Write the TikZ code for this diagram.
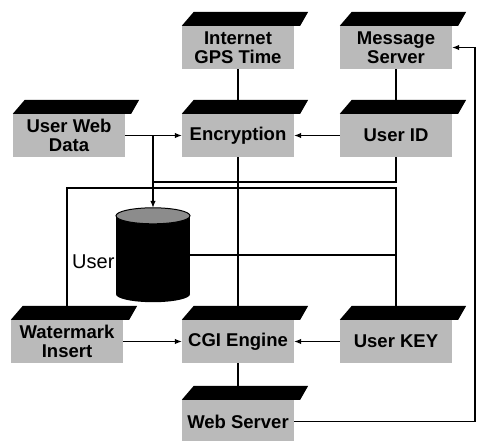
\documentclass[tikz,border=0pt]{standalone}
\usepackage{fontspec}
\setmainfont{Liberation Sans}
\usetikzlibrary{calc,arrows.meta}
\begin{document}
\begin{tikzpicture}[x=1pt,y=-1pt,
  blk/.style={fill=black!27, minimum width=112pt, minimum height=43pt, inner sep=0pt,
    align=center, font=\bfseries\fontsize{18.5}{18.5}\selectfont},
  ln/.style={line width=1.1pt},
  arr/.style={ln, -{Latex[length=7pt,width=5.5pt]}}]
\useasboundingbox[fill=white] (0,0) rectangle (477,440);
% boxes
\node[blk] (gps) at (238,47.5) {Internet\\GPS Time};
\node[blk] (msg) at (396,47.5) {Message\\Server};
\node[blk] (uwd) at (69,135.5) {User Web\\Data};
\node[blk] (enc) at (238,135.5) {Encryption};
\node[blk] (uid) at (396,135.5) {User ID};
\node[blk] (wm)  at (67,341.5) {Watermark\\Insert};
\node[blk] (cgi) at (238,341.5) {CGI Engine};
\node[blk] (key) at (396,341.5) {User KEY};
\node[blk] (web) at (238,421.5) {Web Server};
% database cylinder frame
\node[minimum width=74pt, minimum height=94pt, inner sep=0pt] (db) at (153,255) {};
\coordinate (br) at (db.north |- uwd.east);
\coordinate (ja) at (153,182);
\coordinate (jb) at (67,188);
\coordinate (rx) at (475,0);
% connectors
\draw[ln] (gps.south) -- (enc.north);
\draw[ln] (msg.south) -- (uid.north);
\draw[arr] (uid.west) -- (enc.east);
\draw[arr] (uwd.east) -- (enc.west);
\draw[arr] (br) -- (db.north);
\draw[ln] (uid.south) |- (ja);
\draw[ln] (key.north) |- (jb) -- (wm.north);
\draw[ln] (db.east) -- (db.east -| key.north);
\draw[ln] (enc.south) -- (cgi.north);
\draw[arr] (wm.east) -- (cgi.west);
\draw[arr] (key.west) -- (cgi.east);
\draw[ln] (cgi.south) -- (web.north);
\draw[arr] (web.east) -- (web.east -| rx) |- (msg.east);
% roofs
\foreach \n in {gps,msg,uwd,enc,uid,wm,cgi,key,web}
  \fill[black] (\n.north west) -- ++(12,-14) -- ($(\n.north east)+(14,-14)$) -- ($(\n.north east)+(6,0)$) -- cycle;
% label beside database
\node[anchor=base west, inner sep=0pt, font=\fontsize{20}{20}\selectfont] (usr) at (72,268) {User};
% cylinder
\fill[black] ($(db.north west)+(0,8)$) rectangle ($(db.south east)+(0,-8)$);
\fill[black] ($(db.south)+(0,-8)$) ellipse[x radius=37pt, y radius=8pt];
\filldraw[fill=black!45, draw=black, line width=1pt] ($(db.north)+(0,8)$) ellipse[x radius=37pt, y radius=8pt];
\end{tikzpicture}
\end{document}
